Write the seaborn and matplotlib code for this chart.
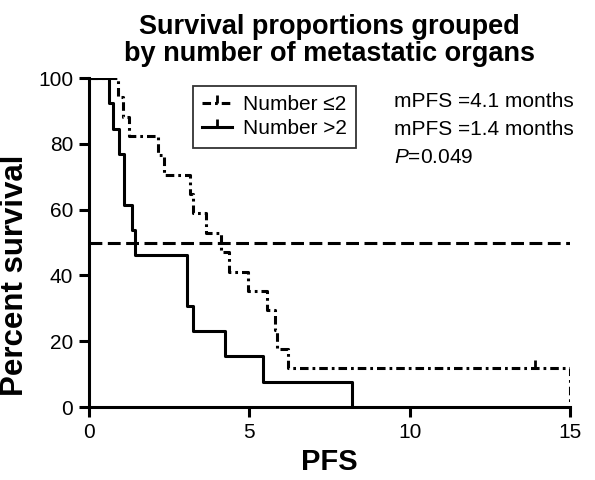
import numpy as np
import pandas as pd
import matplotlib
matplotlib.use("Agg")
import matplotlib.pyplot as plt
from matplotlib.lines import Line2D
import seaborn as sns

# Event / censor times (months)
le2_times = [0.9, 1.05, 1.24, 2.15, 2.33, 3.15, 3.25, 3.66, 4.12, 4.35,
             4.96, 5.55, 5.8, 5.85, 6.2, 13.9, 15.0]
le2_events = [1, 1, 1, 1, 1, 1, 1, 1, 1, 1, 1, 1, 1, 1, 1, 0, 1]
gt2_times = [0.62, 0.75, 0.93, 1.1, 1.1, 1.34, 1.44, 3.05, 3.05, 3.23,
             4.23, 5.42, 8.19]
gt2_events = [1] * 13

group_labels = ["Number \u22642", "Number >2"]
annot_lines = ["mPFS =4.1 months", "mPFS =1.4 months", "$P$=0.049"]


def km_curve(times, events):
    """Kaplan-Meier step points, plus censor points."""
    df = pd.DataFrame({"t": times, "e": events}).sort_values("t")
    n = len(df)
    surv = 100.0
    xs, ys = [0.0], [100.0]
    cens = []
    for t, grp in df.groupby("t", sort=True):
        d = grp["e"].sum()
        if d > 0:
            surv = surv * (1 - d / n)
            xs.append(t)
            ys.append(surv)
        if (grp["e"] == 0).any():
            cens.append((t, surv))
        n -= len(grp)
    return pd.DataFrame({"x": xs, "y": ys}), cens


plt.rcParams["font.family"] = ["Liberation Sans", "DejaVu Sans"]
plt.rcParams["mathtext.fontset"] = "custom"
plt.rcParams["mathtext.it"] = "Liberation Sans:italic"
fig, ax = plt.subplots(figsize=(5.95, 4.8), dpi=100)
fig.subplots_adjust(left=0.1496, right=0.958, bottom=0.152, top=0.8375)

le2_df, le2_cens = km_curve(le2_times, le2_events)
gt2_df, gt2_cens = km_curve(gt2_times, gt2_events)

lw = 2.2
dashdot = (0, (2.8, 1.3, 0.9, 1.3))
sns.lineplot(data=le2_df, x="x", y="y", ax=ax, drawstyle="steps-post",
             estimator=None, color="black", lw=lw, linestyle=dashdot)
sns.lineplot(data=gt2_df, x="x", y="y", ax=ax, drawstyle="steps-post",
             estimator=None, color="black", lw=lw)
for t, s in le2_cens:
    ax.plot([t], [s], marker=2, color="black", markersize=6, mew=2)

# median reference line
ax.axhline(50, color="black", lw=lw, linestyle=(0, (4.2, 1.8)))

ax.set_xlim(0, 15)
ax.set_ylim(0, 100)
ax.set_xticks([0, 5, 10, 15])
ax.set_yticks([0, 20, 40, 60, 80, 100])
for side in ["top", "right"]:
    ax.spines[side].set_visible(False)
for side in ["left", "bottom"]:
    ax.spines[side].set_linewidth(lw)
ax.tick_params(width=lw, length=7, labelsize=15, pad=4.5, direction="out")
ax.set_xlabel("PFS", fontsize=21, fontweight="bold", labelpad=4)
ax.set_ylabel("Percent survival", fontsize=22.5, fontweight="bold")
ax.yaxis.set_label_coords(-0.122, 0.40)
ax.set_title("Survival proportions grouped\nby number of metastatic organs",
             fontsize=19.5, fontweight="bold", pad=12, linespacing=1.05)

handles = [
    Line2D([], [], color="black", lw=lw, linestyle=dashdot, marker=2,
           markersize=6, mew=2),
    Line2D([], [], color="black", lw=lw, marker=2, markersize=6, mew=2),
]
leg = ax.legend(handles, group_labels, loc="upper left",
                bbox_to_anchor=(0.216, 0.976), fontsize=15, frameon=True,
                fancybox=False, edgecolor="black", handlelength=1.45,
                handletextpad=0.5, borderpad=0.45, labelspacing=0.25,
                borderaxespad=0, numpoints=1)
leg.get_frame().set_linewidth(1.3)

for i, txt in enumerate(annot_lines):
    ax.text(9.5, 91.2 - i * 8.5, txt, fontsize=15, va="baseline", ha="left")

fig.savefig("out.png", dpi=100)
